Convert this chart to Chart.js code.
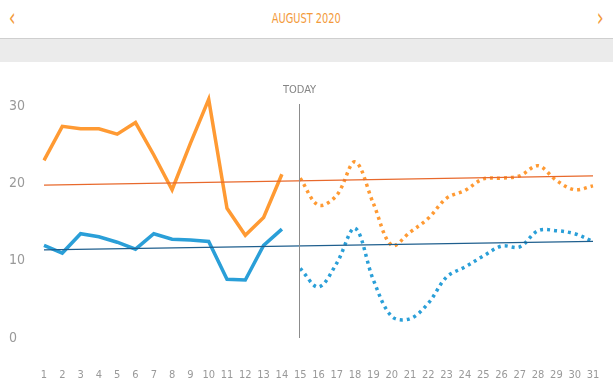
<!DOCTYPE html>
<html>
<head>
<meta charset="utf-8">
<script src="https://cdn.jsdelivr.net/npm/chart.js@4"></script>
<style>
  body { margin: 0; width: 613px; height: 388px; overflow: hidden; background: #fff;
         font-family: "Liberation Sans Narrow", "DejaVu Sans Condensed", sans-serif; }
  .header { position: absolute; left: 0; top: 0; width: 613px; height: 38px; }
  .titulo { position: absolute; left: 0; width: 613px; top: 10px; text-align: center;
            color: #f39a3a; font-size: 14px; }
  .titulo span { display: inline-block; transform: scaleX(0.78); }
  .seta { position: absolute; top: 4px; color: #f39a3a; font-size: 24px; line-height: 28px; }
  .seta span { display: inline-block; transform: scaleX(0.8); }
  .faixa { position: absolute; left: 0; top: 38px; width: 613px; height: 23px;
           background: #ebebeb; border-top: 1px solid #cfcfcf; }
  #grafico { position: absolute; left: 0; top: 62px; }
</style>
</head>
<body>
<div class="header">
  <span class="seta" style="left:8px"><span>&#8249;</span></span>
  <div class="titulo"><span>AUGUST 2020</span></div>
  <span class="seta" style="left:596px"><span>&#8250;</span></span>
</div>
<div class="faixa"></div>
<canvas id="grafico" width="613" height="326"></canvas>
<script>
// Dias do mês
const dias = ['1','2','3','4','5','6','7','8','9','10','11','12','13','14','15','16',
  '17','18','19','20','21','22','23','24','25','26','27','28','29','30','31'];

// Valores reais (até hoje)
const maxReal = [23.0, 27.4, 27.1, 27.1, 26.4, 27.9, 23.7, 19.2, 25.2, 30.9, 16.8, 13.3, 15.6, 21.2];
const minReal = [12.0, 11.0, 13.5, 13.1, 12.4, 11.5, 13.5, 12.8, 12.7, 12.5, 7.6, 7.5, 12.0, 14.1];

// Previsão (do dia 15 em diante)
const maxPrev = [20.7, 17.2, 18.5, 22.8, 17.4, 12.0, 13.7, 15.5, 18.1, 19.1, 20.6, 20.7, 21.0, 22.3, 20.4, 19.2, 19.7];
const minPrev = [9.0, 6.6, 9.7, 14.2, 7.5, 2.8, 2.5, 4.5, 7.9, 9.2, 10.6, 11.9, 11.8, 13.9, 13.9, 13.5, 12.5];

// Linhas de tendência (início e fim)
const tendMax = [19.8, 21.0];
const tendMin = [11.4, 12.5];

const yTicks = [0, 10, 20, 30];
const hoje = '15';

const LARANJA = '#ff9a33';
const AZUL = '#2a9fd8';
const fonte = '"Liberation Sans Narrow", "DejaVu Sans Condensed", sans-serif';

function passado(arr) {
  return dias.map((d, i) => i < arr.length ? arr[i] : null);
}
function futuro(arr) {
  const ini = dias.length - arr.length;
  return dias.map((d, i) => i >= ini ? arr[i - ini] : null);
}
function tendencia(par) {
  return dias.map((d, i) => i === 0 ? par[0] : (i === dias.length - 1 ? par[1] : null));
}

// Linha vertical "TODAY"
const linhaHoje = {
  id: 'linhaHoje',
  afterDatasetsDraw(chart) {
    const { ctx, scales } = chart;
    const x = Math.round(scales.x.getPixelForValue(dias.indexOf(hoje))) - 0.5;
    const yTop = scales.y.getPixelForValue(30.3);
    ctx.save();
    ctx.strokeStyle = '#8c8c8c';
    ctx.lineWidth = 1;
    ctx.beginPath();
    ctx.moveTo(x, yTop);
    ctx.lineTo(x, chart.chartArea.bottom);
    ctx.stroke();
    ctx.fillStyle = '#858585';
    ctx.font = '11px ' + fonte;
    ctx.textAlign = 'center';
    ctx.textBaseline = 'middle';
    ctx.fillText('TODAY', x, yTop - 14);
    ctx.restore();
  }
};

const linhaBase = { fill: false, pointRadius: 0, borderCapStyle: 'butt' };

new Chart(document.getElementById('grafico'), {
  type: 'line',
  data: {
    labels: dias,
    datasets: [
      { ...linhaBase, data: tendencia(tendMax), borderColor: '#e8692c', borderWidth: 1.3, spanGaps: true },
      { ...linhaBase, data: tendencia(tendMin), borderColor: '#1f5f8e', borderWidth: 1.3, spanGaps: true },
      { ...linhaBase, data: passado(maxReal), borderColor: LARANJA, borderWidth: 3.5, tension: 0 },
      { ...linhaBase, data: passado(minReal), borderColor: AZUL, borderWidth: 3.5, tension: 0 },
      { ...linhaBase, data: futuro(maxPrev), borderColor: LARANJA, borderWidth: 3.5, borderDash: [3, 4], tension: 0.35 },
      { ...linhaBase, data: futuro(minPrev), borderColor: AZUL, borderWidth: 3.5, borderDash: [3, 4], tension: 0.35 }
    ]
  },
  options: {
    responsive: false,
    animation: false,
    layout: { padding: { top: 25, right: 20, left: 9, bottom: 0 } },
    plugins: { legend: { display: false }, tooltip: { enabled: false } },
    scales: {
      x: {
        grid: { display: false, drawTicks: false },
        border: { display: false },
        ticks: { color: '#999', font: { size: 11, family: fonte }, padding: 31, maxRotation: 0, autoSkip: false },
        afterFit(scale) { scale.height = 50; scale.paddingLeft = 0; scale.paddingRight = 0; }
      },
      y: {
        min: 0,
        max: 32.5,
        grid: { display: false, drawTicks: false },
        border: { display: false },
        afterBuildTicks(scale) { scale.ticks = yTicks.map(v => ({ value: v })); },
        ticks: { color: '#999', font: { size: 14, family: fonte }, crossAlign: 'far', padding: 0 },
        afterFit(scale) { scale.width = 35; }
      }
    }
  },
  plugins: [linhaHoje]
});
</script>
</body>
</html>
